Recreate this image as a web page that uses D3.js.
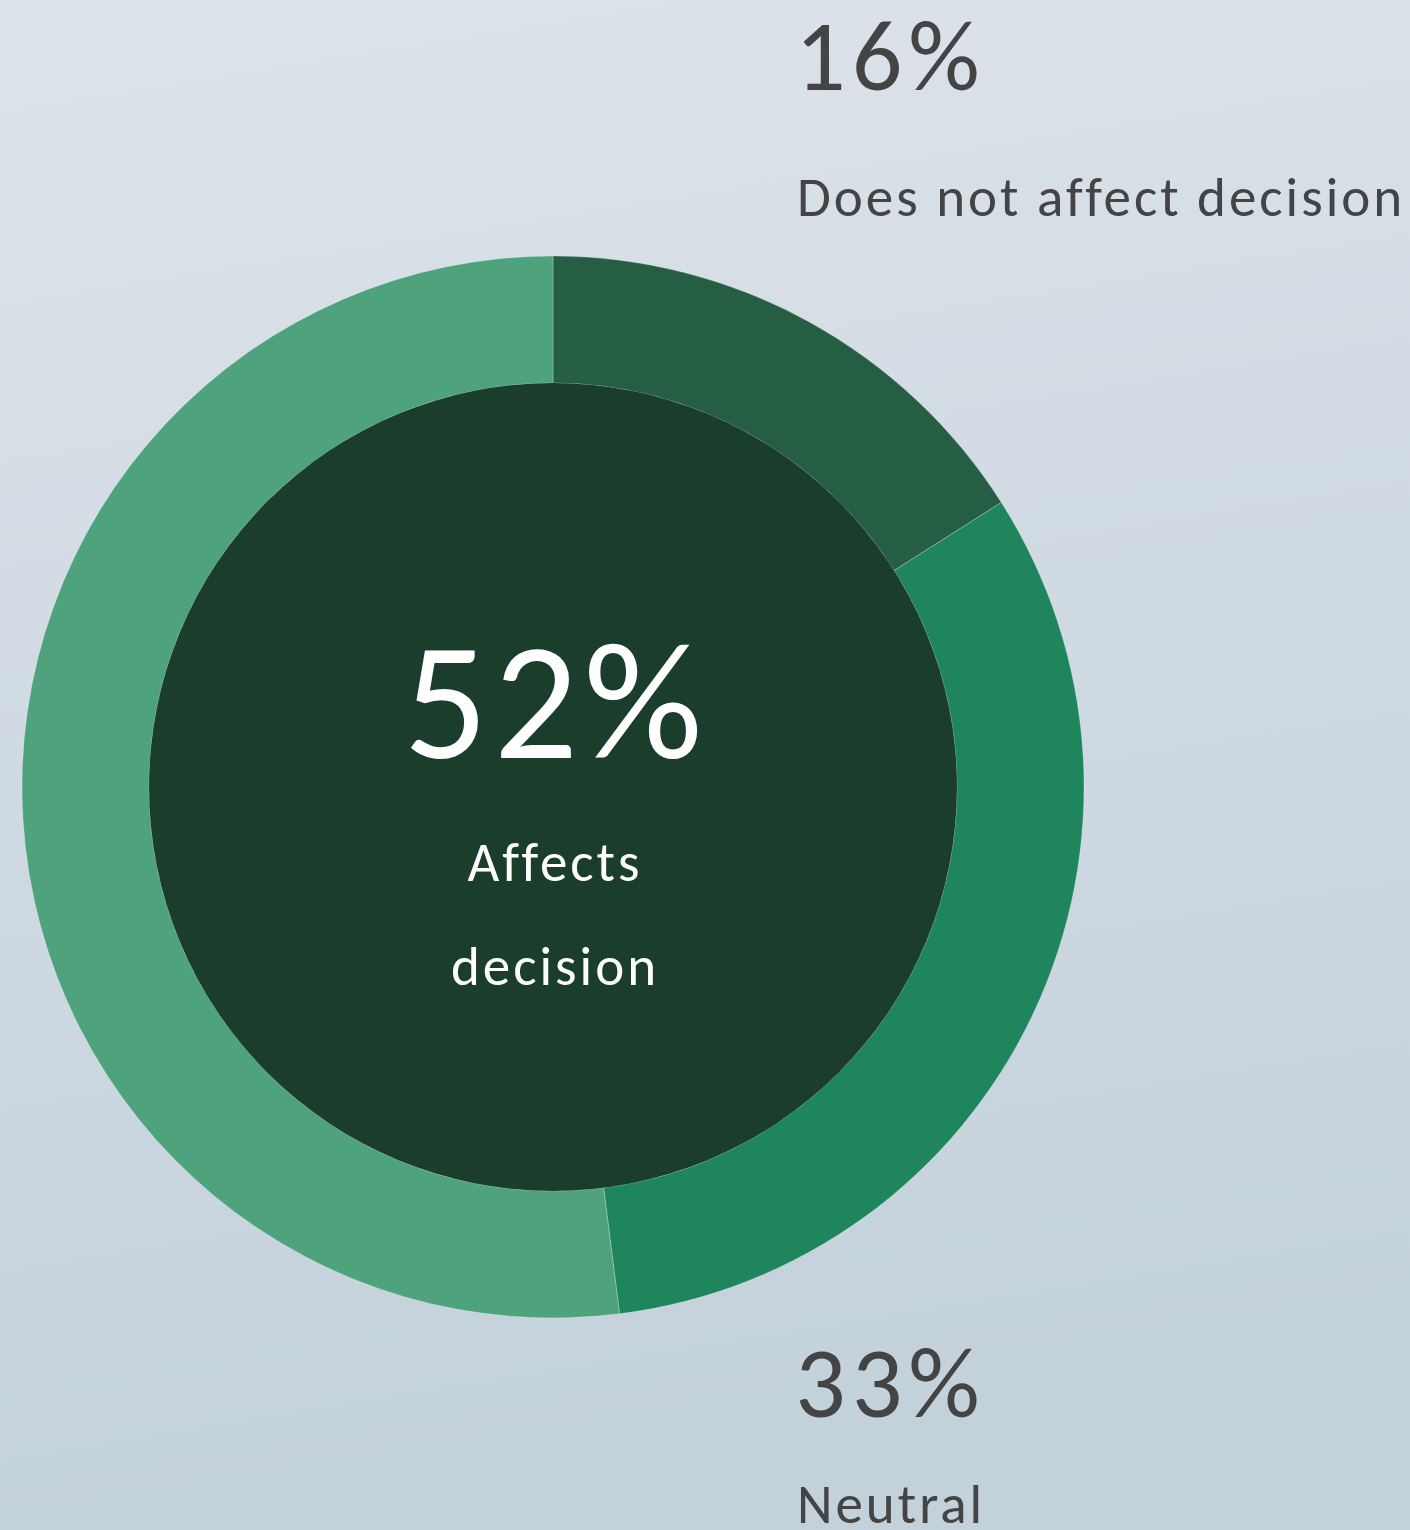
<!DOCTYPE html>
<html>
<head>
<meta charset="utf-8">
<script src="https://cdn.jsdelivr.net/npm/d3@7"></script>
<style>
  body { margin: 0; }
  svg { display: block; }
</style>
</head>
<body>
<svg id="chart" width="1410" height="1530"></svg>
<script>
// data
var categories = ["Does not affect decision", "Neutral", "Affects decision"]
var shares = [16, 32, 52]
var labels = ["16%", "33%", "52%"]
var colors = ["#265e44", "#1e855c", "#4ea37d"]

var width = 1410, height = 1530;
var cx = 553, cy = 787;
var outerR = 531, innerR = 404;
var font = "Calibri, Carlito, Lato, sans-serif";

var svg = d3.select("#chart")

// background gradient
var grad = svg.append("defs").append("linearGradient")
    .attr("id", "bg")
    .attr("x1", "0").attr("y1", "0")
    .attr("x2", "0.15").attr("y2", "1");
grad.append("stop").attr("offset", "0%").attr("stop-color", "#dde3ea");
grad.append("stop").attr("offset", "100%").attr("stop-color", "#c3d1db");

svg.append("rect")
    .attr("width", width)
    .attr("height", height)
    .attr("fill", "url(#bg)");

var pie = d3.pie().sort(null).value(function(d) { return d; });
var arc = d3.arc().innerRadius(innerR).outerRadius(outerR);

var g = svg.append("g").attr("transform", "translate(" + cx + "," + cy + ")");

g.selectAll("path")
    .data(pie(shares))
    .enter()
    .append("path")
    .attr("d", arc)
    .attr("fill", function(d, i) { return colors[i]; })
    .attr("stroke", "rgba(255,255,255,0.25)")
    .attr("stroke-width", 1);

// inner disc
g.append("circle")
    .attr("r", innerR)
    .attr("fill", "#1a3d2c");

// center label
g.append("text")
    .attr("x", 3).attr("y", 758 - cy)
    .attr("text-anchor", "middle")
    .attr("font-family", font)
    .attr("font-size", 166)
    .attr("letter-spacing", 6)
    .attr("fill", "#ffffff")
    .text(labels[2]);

var centerLines = ["Affects", "decision"];
g.selectAll(".center-sub")
    .data(centerLines)
    .enter()
    .append("text")
    .attr("class", "center-sub")
    .attr("x", 2)
    .attr("y", function(d, i) { return 881 - cy + i * 104; })
    .attr("text-anchor", "middle")
    .attr("font-family", font)
    .attr("font-size", 55)
    .attr("letter-spacing", 3)
    .attr("fill", "#ffffff")
    .text(function(d) { return d; });

// side labels
var side = [
  { pct: labels[0], name: categories[0], y: 90, ny: 216 },
  { pct: labels[1], name: categories[1], y: 1417, ny: 1523 }
];

var sideG = svg.selectAll(".side")
    .data(side)
    .enter()
    .append("g")
    .attr("class", "side");

sideG.append("text")
    .attr("x", 795)
    .attr("y", function(d) { return d.y; })
    .attr("font-family", font)
    .attr("font-size", 100)
    .attr("letter-spacing", 6)
    .attr("fill", "#444444")
    .text(function(d) { return d.pct; });

sideG.append("text")
    .attr("x", 797)
    .attr("y", function(d) { return d.ny; })
    .attr("font-family", font)
    .attr("font-size", 55)
    .attr("letter-spacing", 3)
    .attr("fill", "#444444")
    .text(function(d) { return d.name; });
</script>
</body>
</html>
